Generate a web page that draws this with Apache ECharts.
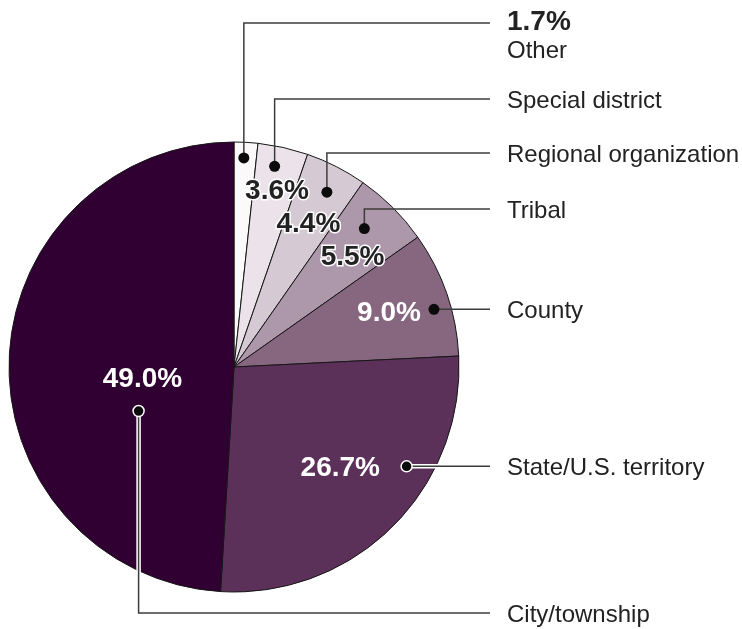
<!DOCTYPE html>
<html>
<head>
<meta charset="utf-8">
<script src="https://cdn.jsdelivr.net/npm/echarts@6/dist/echarts.min.js"></script>
<style>
  html, body { margin: 0; padding: 0; background: #fff; }
  #chart { width: 742px; height: 629px; }
</style>
</head>
<body>
<div id="chart"></div>
<script>
var categories = ['Other', 'Special district', 'Regional organization', 'Tribal', 'County', 'State/U.S. territory', 'City/township'];
var shares = [1.7, 3.6, 4.4, 5.5, 9.0, 26.7, 49.0];
var sliceColors = ['#fbf9fa', '#ebe3e9', '#d5c9d3', '#ad97aa', '#87667f', '#5c3159', '#2f0031'];

// callout layout: where the dot sits in its slice, where the label row is
// at = fraction along the slice arc, r = fraction of radius
var callouts = [
  { dotAt: 0.44, dotR: 0.93, rowY: 23,   pct: null,                 dark: false },
  { dotAt: 0.41, dotR: 0.91, rowY: 99,   pct: { at: 0.58, r: 0.81 }, dark: false },
  { dotAt: 0.56, dotR: 0.88, rowY: 153,  pct: { at: 0.52, r: 0.72 }, dark: false },
  { dotAt: 0.42, dotR: 0.845, rowY: 209, pct: { at: 0.61, r: 0.72 }, dark: false },
  { dotAt: 0.59, dotR: 0.925, rowY: null, pct: { at: 0.49, r: 0.73 }, dark: true, halo: false },
  { dotAt: 0.34, dotR: 0.885, rowY: null, pct: { at: 0.48, r: 0.65 }, dark: true, halo: true },
  { dotAt: 0.35, dotR: 0.467, rowY: 613,  pct: { at: 0.45, r: 0.41 }, dark: true, halo: true }
];

var FONT = '"Liberation Sans", Arial, Helvetica, sans-serif';
var lineEndX = 490;
var textX = 507;

var chart = echarts.init(document.getElementById('chart'), null, { renderer: 'canvas' });

var option = {
  animation: false,
  color: sliceColors,
  series: [
    {
      type: 'pie',
      center: [234, 367],
      radius: [0, 225],
      startAngle: 90,
      clockwise: true,
      label: { show: false },
      labelLine: { show: false },
      emphasis: { disabled: true },
      itemStyle: { borderColor: '#161616', borderWidth: 1 },
      data: categories.map(function (name, i) {
        return { name: name, value: shares[i] };
      })
    }
  ]
};
chart.setOption(option);

function sliceLayout(i) {
  try {
    var lay = chart.getModel().getSeriesByIndex(0).getData().getItemLayout(i);
    if (lay && lay.r) return lay;
  } catch (e) {}
  // fallback: same math as the pie layout
  var total = shares.reduce(function (a, b) { return a + b; }, 0);
  var before = 0;
  for (var k = 0; k < i; k++) before += shares[k];
  var s = -Math.PI / 2 + before / total * Math.PI * 2;
  return { cx: 234, cy: 367, r: 225, startAngle: s, endAngle: s + shares[i] / total * Math.PI * 2 };
}

function pointIn(lay, at, rf) {
  var a = lay.startAngle + at * (lay.endAngle - lay.startAngle);
  return [lay.cx + lay.r * rf * Math.cos(a), lay.cy + lay.r * rf * Math.sin(a)];
}

var lineEls = [], dotEls = [], textEls = [];

categories.forEach(function (name, i) {
  var c = callouts[i];
  var lay = sliceLayout(i);
  var dot = pointIn(lay, c.dotAt, c.dotR);
  var rowY = c.rowY == null ? dot[1] : c.rowY;
  var pts = c.rowY == null ? [dot, [lineEndX, rowY]] : [dot, [dot[0], rowY], [lineEndX, rowY]];

  if (c.halo) {
    lineEls.push({ type: 'polyline', z: 100, silent: true, shape: { points: pts },
      style: { stroke: '#ffffff', lineWidth: 4.5, fill: null } });
  }
  lineEls.push({ type: 'polyline', z: 101, silent: true, shape: { points: pts },
    style: { stroke: '#3c3c3c', lineWidth: 1.5, fill: null } });

  dotEls.push({ type: 'circle', z: 103, silent: true, shape: { cx: dot[0], cy: dot[1], r: 5.5 },
    style: { fill: '#0b0b0b', stroke: c.halo ? '#ffffff' : null, lineWidth: c.halo ? 1.5 : 0 } });

  var pctText = shares[i].toFixed(1) + '%';
  if (c.pct) {
    var p = pointIn(lay, c.pct.at, c.pct.r);
    textEls.push({ type: 'text', z: 104, silent: true, x: p[0], y: p[1] + 1,
      style: {
        text: pctText, font: 'bold 28px ' + FONT,
        fill: c.dark ? '#ffffff' : '#222222',
        stroke: c.dark ? null : '#ffffff', lineWidth: c.dark ? 0 : 3,
        align: 'center', verticalAlign: 'middle'
      } });
    textEls.push({ type: 'text', z: 105, silent: true, x: textX, y: rowY + 2,
      style: { text: name, font: '24px ' + FONT, fill: '#222222', align: 'left', verticalAlign: 'middle' } });
  } else {
    // slice too thin: value goes on the label row
    textEls.push({ type: 'text', z: 105, silent: true, x: textX, y: rowY - 1,
      style: { text: pctText, font: 'bold 28px ' + FONT, fill: '#222222', align: 'left', verticalAlign: 'middle' } });
    textEls.push({ type: 'text', z: 105, silent: true, x: textX, y: rowY + 28,
      style: { text: name, font: '24px ' + FONT, fill: '#222222', align: 'left', verticalAlign: 'middle' } });
  }
});

chart.setOption({ graphic: { elements: lineEls.concat(dotEls, textEls) } });
</script>
</body>
</html>
